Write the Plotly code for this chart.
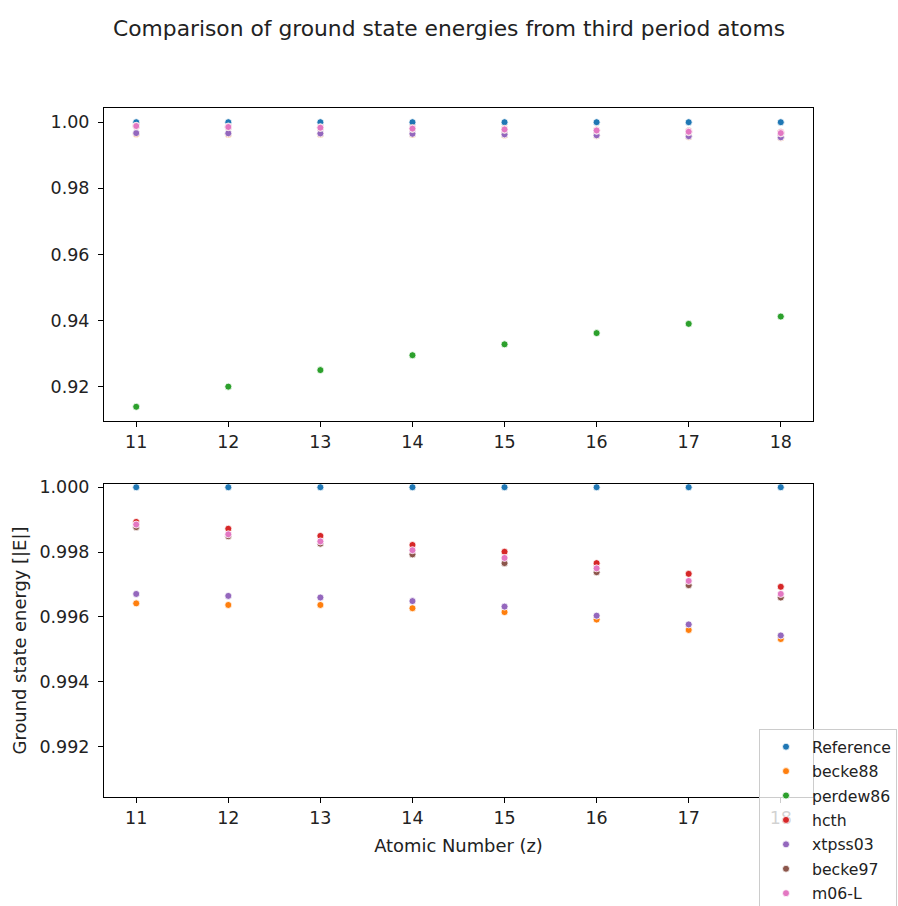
import plotly.graph_objects as go
from plotly.subplots import make_subplots

atomic_numbers = [11, 12, 13, 14, 15, 16, 17, 18]
reference = [1.0, 1.0, 1.0, 1.0, 1.0, 1.0, 1.0, 1.0]
becke88 = [0.99642, 0.99637, 0.99637, 0.99627, 0.99615, 0.99592, 0.99560, 0.99532]
perdew86 = [0.9139, 0.9200, 0.9250, 0.9295, 0.9328, 0.9362, 0.9390, 0.9412]
hcth = [0.99893, 0.99872, 0.99850, 0.99822, 0.99801, 0.99766, 0.99733, 0.99693]
xtpss03 = [0.99671, 0.99665, 0.99660, 0.99649, 0.99632, 0.99604, 0.99577, 0.99543]
becke97 = [0.99877, 0.99849, 0.99826, 0.99793, 0.99766, 0.99738, 0.99698, 0.99660]
m06L = [0.99885, 0.99855, 0.99833, 0.99806, 0.99782, 0.99750, 0.99711, 0.99671]

series_names = ["Reference", "becke88", "perdew86", "hcth", "xtpss03", "becke97", "m06-L"]
series_values = [reference, becke88, perdew86, hcth, xtpss03, becke97, m06L]
colors = ["#1f77b4", "#ff7f0e", "#2ca02c", "#d62728", "#9467bd", "#8c564b", "#e377c2"]

W, H = 898, 906
L, R, T, B = 104, 813, 108, 797
pw, ph = R - L, B - T

fig = make_subplots(rows=2, cols=1)

for name, vals, col in zip(series_names, series_values, colors):
    for row in (1, 2):
        fig.add_trace(go.Scatter(
            x=atomic_numbers, y=vals, mode="markers", name=name,
            legendgroup=name, showlegend=(row == 2),
            marker=dict(color=col, size=7, line=dict(color="white", width=0.8)),
        ), row=row, col=1)

tickfont = dict(family="DejaVu Sans", size=17.5, color="#222")
axis_common = dict(showline=True, linecolor="black", linewidth=1, mirror=True,
                   ticks="outside", ticklen=5, tickcolor="black", showgrid=False,
                   zeroline=False, tickfont=tickfont)

top_dom = [(B - 421) / ph, 1.0]
bot_dom = [0.0, (B - 484) / ph]

fig.update_layout(
    width=W, height=H,
    margin=dict(l=L, r=W - R, t=T, b=H - B, autoexpand=False),
    paper_bgcolor="white", plot_bgcolor="white",
    font=dict(family="DejaVu Sans", color="#222"),
    title=dict(text="Comparison of ground state energies from third period atoms",
               x=0.5, xanchor="center", y=1 - 28 / H, yanchor="middle",
               font=dict(family="DejaVu Sans", size=21.8, color="#222")),
    xaxis=dict(range=[10.65, 18.35], tickvals=atomic_numbers, **axis_common),
    xaxis2=dict(range=[10.65, 18.35], tickvals=atomic_numbers,
                title=dict(text="Atomic Number (z)", standoff=12,
                           font=dict(family="DejaVu Sans", size=17.9, color="#222")),
                **axis_common),
    yaxis=dict(domain=top_dom, range=[0.9096, 1.0043], dtick=0.02, tick0=0.92,
               tickformat=".2f", ticklabelstandoff=5, **axis_common),
    yaxis2=dict(domain=bot_dom, range=[0.99045, 1.0001], dtick=0.002, tick0=0.992,
                tickformat=".3f", ticklabelstandoff=5,
                title=dict(text="Ground state energy [|E|]", standoff=8,
                           font=dict(family="DejaVu Sans", size=17.9, color="#222")),
                **axis_common),
    legend=dict(x=(759 - L) / pw, xanchor="left", y=(B - 729) / ph, yanchor="top",
                bgcolor="rgba(255,255,255,0.8)", bordercolor="#cccccc", borderwidth=1,
                font=dict(family="DejaVu Sans", size=15.7, color="#222"),
                itemwidth=42, tracegroupgap=1),
    showlegend=True,
)

fig.write_html("out.html")
